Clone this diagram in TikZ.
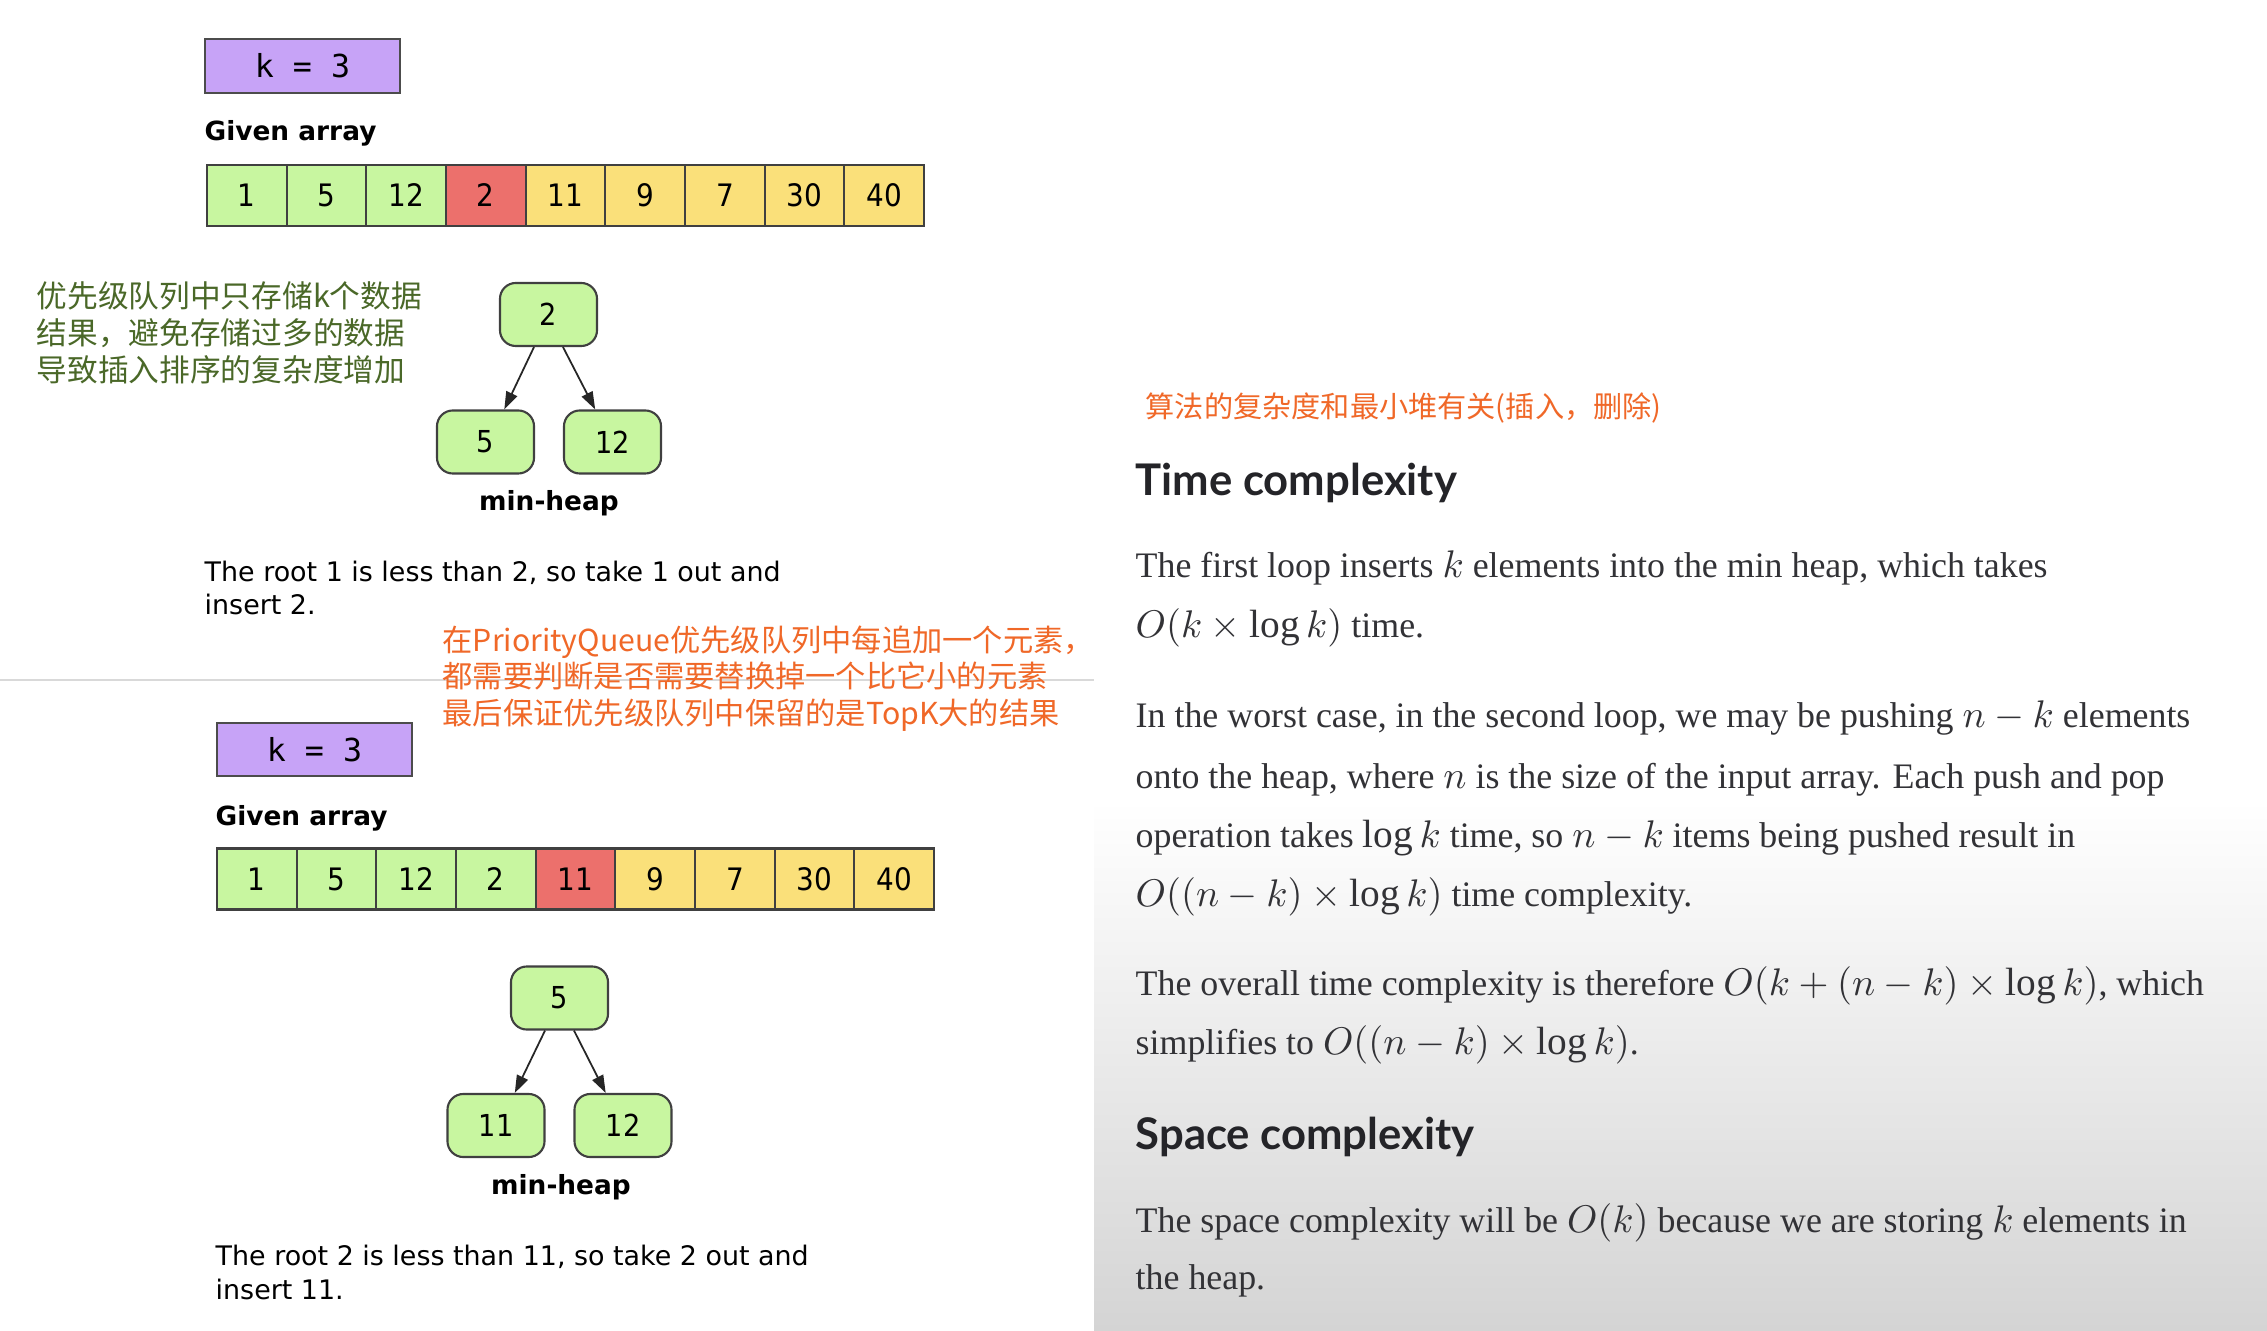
\documentclass[tikz,border=0pt]{standalone}
\usepackage{fontspec}
\setmainfont{Liberation Serif}
\newfontfamily\cjk{Noto Sans CJK SC}
\newfontfamily\dvs{DejaVu Sans}
\newfontfamily\dvsc[FakeStretch=0.9]{DejaVu Sans}
\newfontfamily\dvm{DejaVu Sans Mono}
\newfontfamily\hdfont{Lato}
\usetikzlibrary{arrows.meta}
\definecolor{kpurple}{RGB}{199,163,247}
\definecolor{cgreen}{RGB}{200,246,160}
\definecolor{cred}{RGB}{236,112,108}
\definecolor{cyellow}{RGB}{250,224,122}
\definecolor{gtext}{RGB}{74,104,40}
\definecolor{otext}{RGB}{240,104,40}
\definecolor{htext}{RGB}{36,36,40}
\definecolor{btext}{RGB}{50,50,54}
\definecolor{bggray}{RGB}{212,212,212}
\newcommand\mth[1]{{\fontsize{11.2}{12}\selectfont$#1$}}
\begin{document}
\begin{tikzpicture}[x=0.01cm,y=-0.01cm,
  kbox/.style={draw=black!70,line width=0.6pt,fill=kpurple,minimum width=1.95cm,minimum height=0.535cm,inner sep=0pt,font=\dvm\fontsize{9}{10}\selectfont},
  cell/.style={draw=black!75,line width=0.6pt,minimum width=0.797cm,minimum height=0.61cm,inner sep=0pt,font=\dvsc\fontsize{8.8}{10}\selectfont},
  hnode/.style={draw=black!75,line width=0.6pt,fill=cgreen,rounded corners=4.5pt,minimum width=0.97cm,minimum height=0.63cm,inner sep=0pt,font=\dvsc\fontsize{8.6}{10}\selectfont},
  lbl/.style={anchor=base west,inner sep=0pt,font=\dvs\bfseries\fontsize{7.5}{9}\selectfont},
  hlbl/.style={inner sep=0pt,font=\dvs\bfseries\fontsize{7.5}{9}\selectfont},
  ltxt/.style={anchor=base west,inner sep=0pt,font=\dvs\fontsize{7.65}{9}\selectfont},
  gtxt/.style={anchor=base west,inner sep=0pt,text=gtext,font=\cjk\fontsize{8.73}{10}\selectfont},
  otxt/.style={anchor=base west,inner sep=0pt,text=otext,font=\cjk\fontsize{8.6}{10}\selectfont},
  hd/.style={anchor=base west,inner sep=0pt,text=htext,font=\hdfont\bfseries\fontsize{12.4}{14}\selectfont},
  ptxt/.style={anchor=base west,inner sep=0pt,text=btext,font=\fontsize{10.2}{12}\selectfont},
  arr/.style={-{Triangle[length=5pt,width=3.4pt]},line width=0.5pt,draw=black!85}]
\useasboundingbox (0,0) rectangle (2267,1331);
\fill[white] (0,0) rectangle (2267,1331);
\shade[top color=white,bottom color=bggray] (1094,800) rectangle (2267,1331);
\draw[black!15,line width=0.8pt] (0,680) -- (1094,680);

% ---- upper example ----
\node[kbox] (k1) at (302.5,66) {k = 3};
\node[lbl] (g1) at (204,141) {Given array};
\foreach \v/\c [count=\i] in {1/cgreen,5/cgreen,12/cgreen,2/cred,11/cyellow,9/cyellow,7/cyellow,30/cyellow,40/cyellow}
  \node[cell,fill=\c] (a\i) at ({207+79.67*(\i-0.5)},195.5) {\v};
\node[gtxt] (gt1) at (36,308) {优先级队列中只存储k个数据};
\node[gtxt] (gt2) at (36,345) {结果，避免存储过多的数据};
\node[gtxt] (gt3) at (36,382) {导致插入排序的复杂度增加};
\node[hnode] (r1) at (548.5,314.5) {2};
\node[hnode] (c11) at (485.5,442) {5};
\node[hnode] (c12) at (612.5,442) {12};
\draw[arr] (r1.-114) -- (c11.60);
\draw[arr] (r1.-66) -- (c12.118);
\node[hlbl] (m1) at (549,503) {min-heap};
\node[ltxt] (l1) at (204,582) {The root 1 is less than 2, so take 1 out and};
\node[ltxt] (l2) at (204,615) {insert 2.};
\node[otxt] (o1) at (442,651) {在PriorityQueue优先级队列中每追加一个元素，};
\node[otxt] (o2) at (442,687) {都需要判断是否需要替换掉一个比它小的元素};
\node[otxt] (o3) at (442,725) {最后保证优先级队列中保留的是TopK大的结果};

% ---- lower example ----
\node[kbox] (k2) at (314.5,749.5) {k = 3};
\node[lbl] (g2) at (215,825) {Given array};
\foreach \v/\c [count=\i] in {1/cgreen,5/cgreen,12/cgreen,2/cgreen,11/cred,9/cyellow,7/cyellow,30/cyellow,40/cyellow}
  \node[cell,fill=\c] (b\i) at ({217+79.67*(\i-0.5)},879) {\v};
\node[hnode] (r2) at (559.5,998) {5};
\node[hnode] (c21) at (496,1125.5) {11};
\node[hnode] (c22) at (623,1125.5) {12};
\draw[arr] (r2.-114) -- (c21.60);
\draw[arr] (r2.-66) -- (c22.118);
\node[hlbl] (m2) at (561,1187) {min-heap};
\node[ltxt] (l3) at (215,1265) {The root 2 is less than 11, so take 2 out and};
\node[ltxt] (l4) at (215,1299) {insert 11.};

% ---- right panel ----
\node[otxt,font=\cjk\fontsize{8.3}{10}\selectfont] (o4) at (1145,418) {算法的复杂度和最小堆有关(插入，删除)};
\node[hd] (h1) at (1135,496) {Time complexity};
\node[ptxt] (p1) at (1135,578) {The first loop inserts \mth{k} elements into the min heap, which takes};
\node[ptxt] (p2) at (1135,638) {\mth{O(k\times\log k)} time.};
\node[ptxt] (p3) at (1135,727) {In the worst case, in the second loop, we may be pushing \mth{n-k} elements};
\node[ptxt] (p4) at (1135,788) {onto the heap, where \mth{n} is the size of the input array. Each push and pop};
\node[ptxt] (p5) at (1135,847) {operation takes \mth{\log k} time, so \mth{n-k} items being pushed result in};
\node[ptxt] (p6) at (1135,906) {\mth{O((n-k)\times\log k)} time complexity.};
\node[ptxt] (p7) at (1135,995) {The overall time complexity is therefore \mth{O(k+(n-k)\times\log k)}, which};
\node[ptxt] (p8) at (1135,1054) {simplifies to \mth{O((n-k)\times\log k)}.};
\node[hd] (h2) at (1135,1149) {Space complexity};
\node[ptxt] (p9) at (1135,1232) {The space complexity will be \mth{O(k)} because we are storing \mth{k} elements in};
\node[ptxt] (p10) at (1135,1289) {the heap.};
\end{tikzpicture}
\end{document}
